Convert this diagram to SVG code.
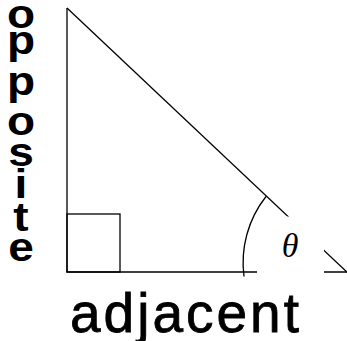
<svg xmlns="http://www.w3.org/2000/svg" width="347" height="341" viewBox="0 0 347 341">
<style>
.ln{fill:none;stroke:#000;stroke-width:1.3}
.big{font-family:"Liberation Sans",Arial,sans-serif;fill:#000}
.th{font-family:"Liberation Serif","Times New Roman",serif;font-style:italic;fill:#000}
</style>
<rect width="347" height="341" fill="#fff"/>
<g id="triangle">
<line class="ln" x1="67" y1="8" x2="67" y2="272"/>
<line class="ln" x1="66.4" y1="272" x2="347" y2="272"/>
<line class="ln" x1="67" y1="8" x2="348" y2="273"/>
</g>
<g id="right-angle">
<rect class="ln" x="67" y="214" width="53" height="58"/>
</g>
<g id="angle-arc">
<path class="ln" d="M244 276.5 A107 107 0 0 1 266 196.5"/>
</g>
<g id="theta">
<rect x="257" y="216.5" width="67" height="58" fill="#fff"/>
<text class="th" x="290" y="257" font-size="34" text-anchor="middle">θ</text>
</g>
<g id="adjacent">
<text class="big" x="70" y="332" font-size="55" letter-spacing="3" stroke="#000" stroke-width="0.8">adjacent</text>
</g>
<g id="opposite" transform="translate(21,0) scale(1.15,1)">
<text class="big" font-size="40" font-weight="bold" text-anchor="middle"><tspan x="0" y="28">o</tspan><tspan x="0" y="54">p</tspan><tspan x="0" y="95">p</tspan><tspan x="0" y="135">o</tspan><tspan x="0" y="166">s</tspan><tspan x="0" y="198">i</tspan><tspan x="0" y="231">t</tspan><tspan x="0" y="261">e</tspan></text>
</g>
</svg>
